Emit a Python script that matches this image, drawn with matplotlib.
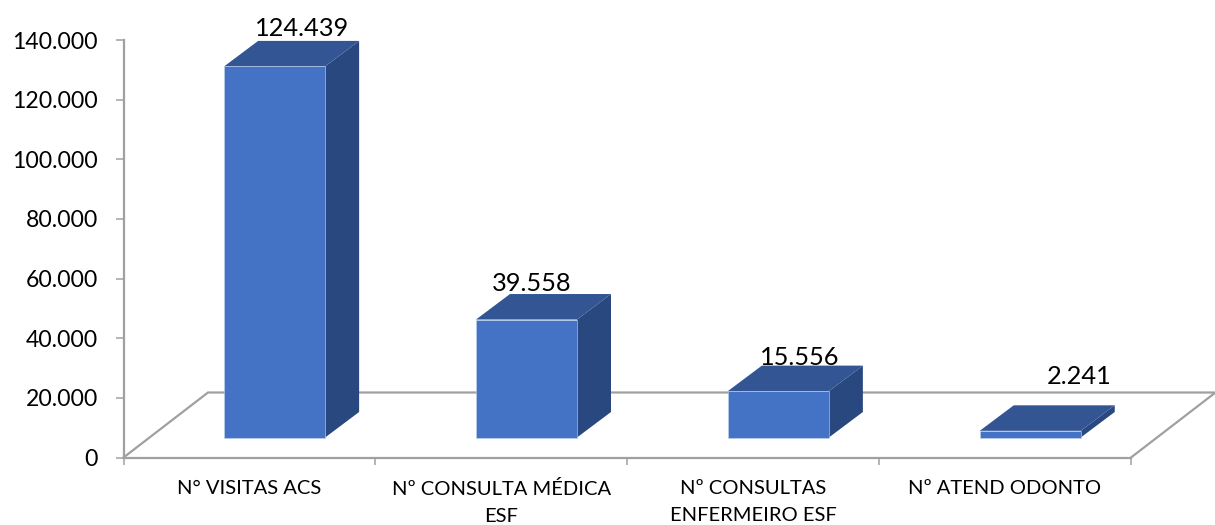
import matplotlib
matplotlib.use("Agg")
import matplotlib.pyplot as plt
from matplotlib.patches import Polygon
from matplotlib.ticker import FuncFormatter

categories = ["N° VISITAS ACS", "Nº CONSULTA MÉDICA\nESF", "Nº CONSULTAS\nENFERMEIRO ESF", "Nº ATEND ODONTO"]
values = [124439, 39558, 15556, 2241]
value_labels = ["124.439", "39.558", "15.556", "2.241"]
y_ticks = [0, 20000, 40000, 60000, 80000, 100000, 120000, 140000]

W, H = 1215, 525
plt.rcParams["font.family"] = ["Lato", "DejaVu Sans"]
fig = plt.figure(figsize=(W / 100, H / 100), dpi=100)
L, R, T, B = 123.5, 1131, 40, 457.5
ax = fig.add_axes([L / W, 1 - B / H, (R - L) / W, (B - T) / H])
ax.set_xlim(0, len(values))
ax.set_ylim(0, 140000)

px_x = len(values) / (R - L)
px_y = 140000 / (B - T)
depth_x, depth_y = 34 * px_x, 25.5 * px_y
floor_x, floor_y = 84.5 * px_x, 65 * px_y
base = 20 * px_y
half = 50.5 * px_x
shift = 0.1 * 1.0
label_dx = [27, 5, 21, 49]
label_dy = [1, -1, -3, 17]

grey = "#A0A0A0"
ax.plot([0, floor_x, len(values) + floor_x, len(values)],
        [0, floor_y, floor_y, 0], color=grey, lw=1.6, clip_on=False, zorder=1, solid_joinstyle="miter")

for i, (v, lab) in enumerate(zip(values, value_labels)):
    c = i + 0.5 + shift
    x0, x1 = c - half, c + half
    y0, y1 = base, base + v
    ax.add_patch(Polygon([(x1, y0), (x1 + depth_x, y0 + depth_y), (x1 + depth_x, y1 + depth_y), (x1, y1)],
                         fc="#2A4880", ec="none", clip_on=False, zorder=3))
    ax.add_patch(Polygon([(x0, y1), (x0 + depth_x, y1 + depth_y), (x1 + depth_x, y1 + depth_y), (x1, y1)],
                         fc="#335593", ec="none", clip_on=False, zorder=3))
    ax.add_patch(Polygon([(x0, y0), (x1, y0), (x1, y1), (x0, y1)],
                         fc="#4472C4", ec="#C5D3EC", lw=0.4, clip_on=False, zorder=4))
    ax.annotate(lab, (c, y1 + depth_y), xytext=(label_dx[i], label_dy[i]), textcoords="offset pixels",
                ha="center", va="bottom", fontsize=18.3, color="black", zorder=5, annotation_clip=False)

for s in ("top", "right"):
    ax.spines[s].set_visible(False)
for s in ("left", "bottom"):
    ax.spines[s].set_color(grey)
    ax.spines[s].set_linewidth(1.6)

ax.set_yticks(y_ticks)
ax.yaxis.set_major_formatter(FuncFormatter(lambda v, _: f"{int(v):,}".replace(",", ".")))
ax.tick_params(axis="y", length=5.5, width=1.1, color=grey, labelsize=16.6, pad=12.8, labelcolor="black")
ax.set_xticks(range(len(values) + 1))
ax.set_xticklabels([])
ax.tick_params(axis="x", which="major", length=5, width=1.1, color=grey)
ax.set_xticks([i + 0.5 for i in range(len(values))], minor=True)
ax.set_xticklabels(categories, minor=True, fontsize=14.5, linespacing=1.68, color="black", va="top")
ax.tick_params(axis="x", which="minor", length=0, pad=16.5)

fig.savefig("out.png", dpi=100)
